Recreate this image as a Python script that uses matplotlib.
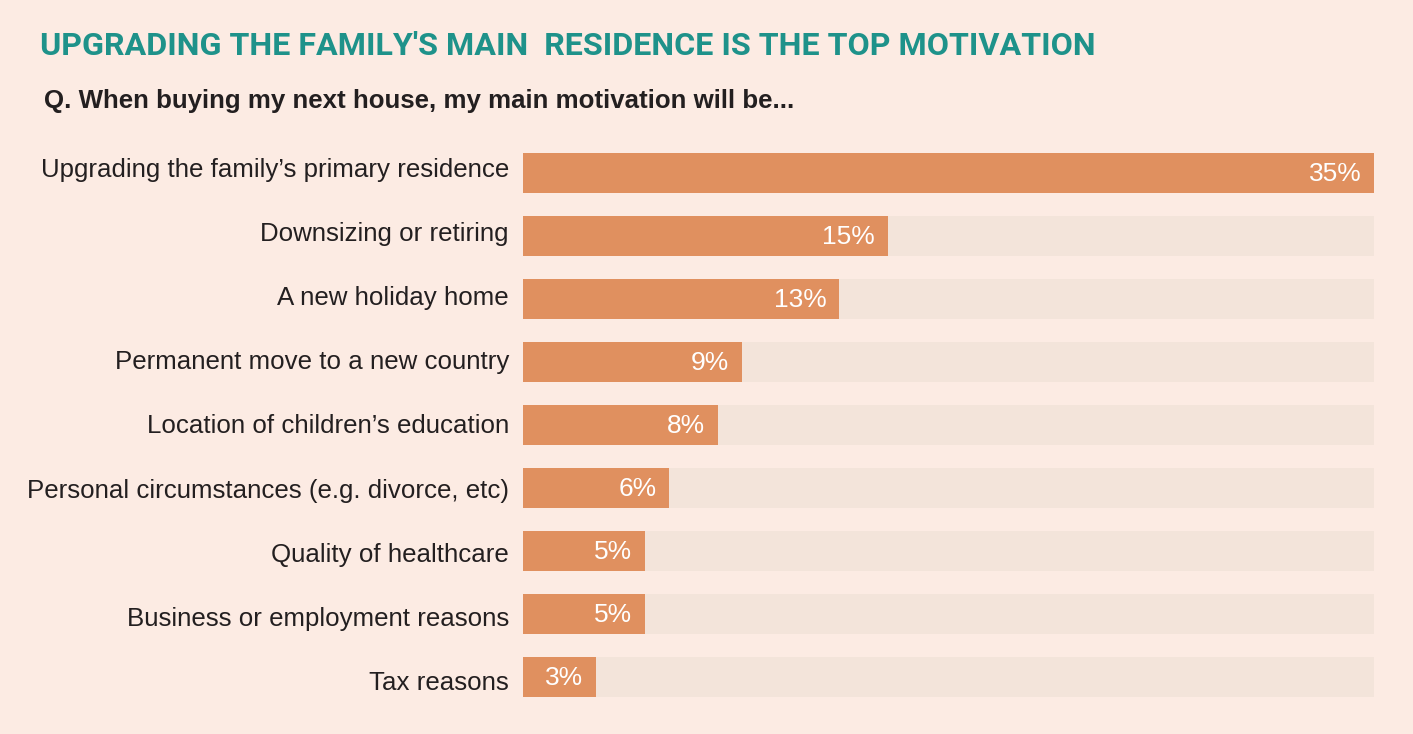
import matplotlib
matplotlib.use("Agg")
import matplotlib.pyplot as plt

BG = "#FCEBE3"
TRACK = "#F3E4DA"
BAR = "#E0905F"
TEAL = "#1E928A"
INK = "#231F20"

categories = [
    "Upgrading the family\u2019s primary residence",
    "Downsizing or retiring",
    "A new holiday home",
    "Permanent move to a new country",
    "Location of children\u2019s education",
    "Personal circumstances (e.g. divorce, etc)",
    "Quality of healthcare",
    "Business or employment reasons",
    "Tax reasons",
]
shares = [35, 15, 13, 9, 8, 6, 5, 5, 3]
scale_max = 35

W, H = 1413, 734
fig = plt.figure(figsize=(W / 100, H / 100), dpi=100, facecolor=BG)

# bar axes, in pixel terms: bars span x 523..1374, rows 141..708
left, right = 523 / W, 1374 / W
top, bottom = 141 / H, 708.5 / H
ax = fig.add_axes([left, 1 - bottom, right - left, bottom - top])
ax.set_facecolor(BG)

n = len(categories)
ypos = list(range(n))
ax.barh(ypos, [scale_max] * n, height=0.635, color=TRACK, linewidth=0)
ax.barh(ypos, shares, height=0.635, color=BAR, linewidth=0)

for y, v in zip(ypos, shares):
    ax.annotate(f"{v}%", xy=(v, y), xytext=(-9, -1), textcoords="offset points",
                ha="right", va="center", color="white", fontsize=19,
                family="Liberation Sans")

ax.set_xlim(0, scale_max)
ax.set_ylim(n - 0.5, -0.5)
ax.set_xticks([])
ax.set_yticks([])
for s in ax.spines.values():
    s.set_visible(False)

# category labels run on a slightly wider row pitch than the bars,
# so they get their own invisible axes (baselines at 177 + 64.1*i px)
lab_top, lab_bottom = (177 - 32.05) / H, (690 + 32.05) / H
lab = fig.add_axes([0, 1 - lab_bottom, 509 / W, lab_bottom - lab_top])
lab.set_ylim(n - 0.5, -0.5)
lab.axis("off")
for y, name in zip(ypos, categories):
    lab.text(1.0, y, name, transform=lab.get_yaxis_transform(),
             ha="right", va="baseline", fontsize=18.6,
             family="Liberation Sans", color=INK)

fig.text(40 / W, 1 - 46 / H, "UPGRADING THE FAMILY'S MAIN  RESIDENCE IS THE TOP MOTIVATION",
         color=TEAL, fontsize=23.2, fontweight="bold", family="Roboto",
         ha="left", va="center")
fig.text(44 / W, 1 - 101 / H, "Q. When buying my next house, my main motivation will be...",
         color=INK, fontsize=18.6, fontweight="bold", family="Liberation Sans",
         ha="left", va="center")

fig.savefig("out.png", dpi=100, facecolor=BG)
